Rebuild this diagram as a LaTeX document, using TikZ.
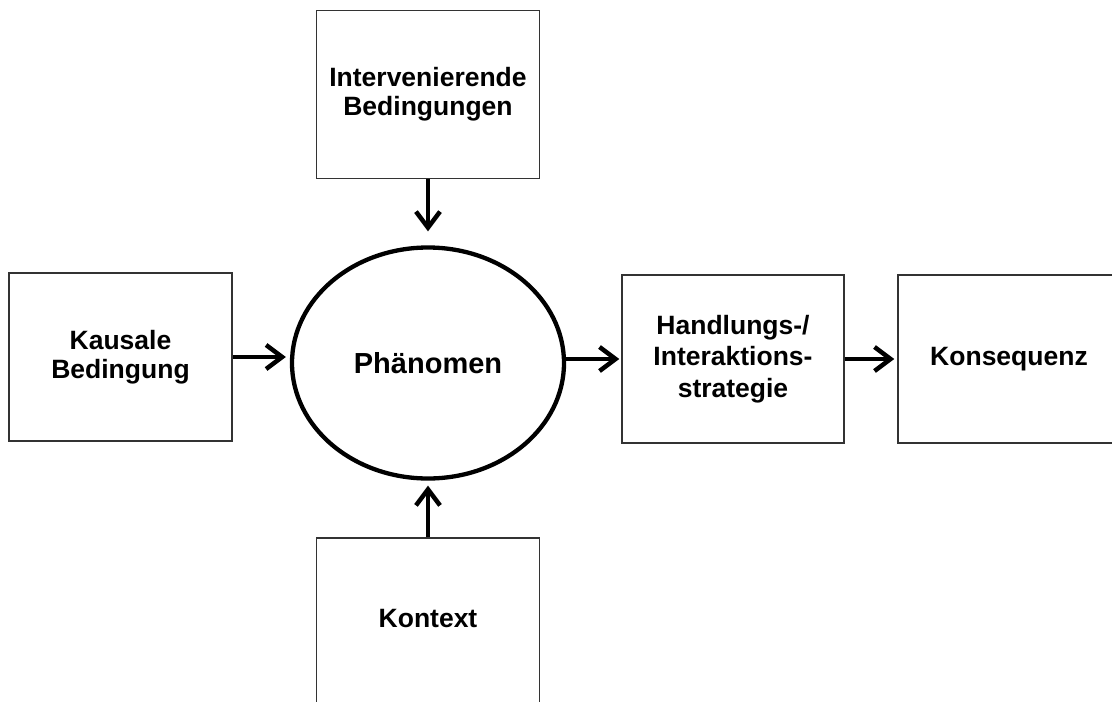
\documentclass[tikz,border=0pt]{standalone}
\usepackage{fontspec}
\setmainfont{Liberation Sans}
\usetikzlibrary{arrows.meta,shapes.geometric}
\begin{document}
\begin{tikzpicture}[x=1pt,y=-1pt,
  box/.style={draw=black!80,line width=1.4pt,rectangle,minimum width=223pt,minimum height=168pt,
    align=center,inner sep=0pt,font=\bfseries\fontsize{26.5}{29}\selectfont},
  core/.style={draw,line width=4.3pt,ellipse,minimum width=272pt,minimum height=231pt,inner sep=0pt,
    font=\bfseries\fontsize{29}{34}\selectfont},
  flow/.style={line width=4.5pt,-{Straight Barb[length=16pt,width=24pt,line width=4.5pt]}}]
\useasboundingbox (0,0) rectangle (1112,702);
\clip (0,0) rectangle (1112,702);
\fill[white] (0,0) rectangle (1112,702);

% central phenomenon
\node[core] (ph) at (428,363) {Ph\"anomen};

% surrounding conditions
\node[box] (int) at (428,94.5) {Intervenierende\\Bedingungen};
\node[box] (kaus) at (120.5,357) {Kausale\\Bedingung};
\node[box,label={[yshift=3.5pt,font=\bfseries\fontsize{26.5}{29}\selectfont]center:Kontext}] (ktx) at (428,622) {};

% strategies and consequences
\node[box,minimum width=222pt,font=\bfseries\fontsize{26.5}{31.5}\selectfont] (hand) at (733,359) {Handlungs-/\\Interaktions-\\strategie};
\node[box,minimum width=222pt] (kons) at (1009,359) {Konsequenz};

% connectors
\draw[flow,shorten >=14pt] (int.south) -- (ph.north);
\draw[flow,shorten >=5pt] (ktx.north) -- (ph.south);
\draw[flow,shorten >=4pt] (kaus.east) -- (kaus.east -| ph.west);
\draw[flow,shorten >=2pt] (ph.east |- hand.west) -- (hand.west);
\draw[flow,shorten >=3pt] (hand.east) -- (kons.west);
\end{tikzpicture}
\end{document}
